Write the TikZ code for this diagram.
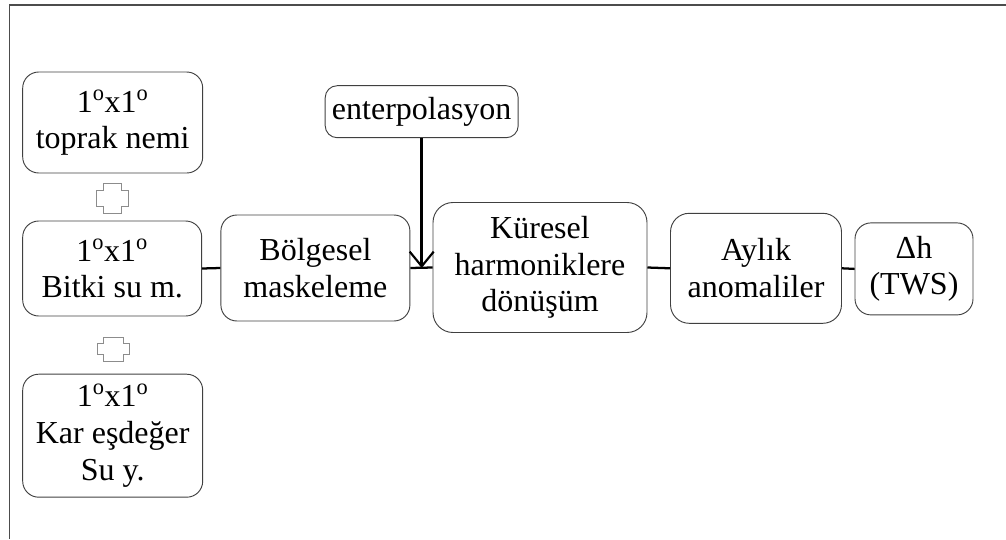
\documentclass[tikz,border=0pt]{standalone}
\usepackage{fontspec}
\setmainfont{Liberation Serif}
\usetikzlibrary{arrows.meta}

\tikzset{
  box/.style={draw=black!75, line width=0.7pt, rounded corners=12pt, align=center,
    inner sep=0pt, font=\fontsize{24}{27.5}\selectfont},
  link/.style={draw=black, line width=1.7pt},
  feed/.style={draw=black, line width=2pt, -{Straight Barb[length=11pt,width=18pt,line width=1.6pt]}},
  plussign/.style={draw=black!45, line width=0.7pt},
  frame/.style={draw=black!70}
}

\begin{document}
\begin{tikzpicture}[x=0.75pt,y=-0.75pt]
\useasboundingbox (0,0) rectangle (1006,539);

% page frame
\draw[frame, line width=1.5pt] (9,5) -- (1006,5);
\draw[frame, line width=0.75pt] (9,5) -- (9,539);

% input grids
\node[box, minimum width=180*0.75pt, minimum height=101*0.75pt] (soil) at (112.7,122.5)
  {1\textsuperscript{o}x1\textsuperscript{o}\\toprak nemi};
\node[box, minimum width=179*0.75pt, minimum height=95*0.75pt] (canopy) at (112.2,268.5)
  {1\textsuperscript{o}x1\textsuperscript{o}\\Bitki su m.};
\node[box, minimum width=180*0.75pt, minimum height=123*0.75pt] (snow) at (112.7,435.7)
  {1\textsuperscript{o}x1\textsuperscript{o}\\Kar eşdeğer\\Su y.};

% processing chain
\node[box, minimum width=189*0.75pt, minimum height=106*0.75pt] (mask) at (315.4,268)
  {Bölgesel\\maskeleme};
\node[box, minimum width=193*0.75pt, minimum height=52*0.75pt, rounded corners=9pt] (interp) at (421.7,111.7)
  {enterpolasyon};
\node[box, minimum width=214*0.75pt, minimum height=130*0.75pt, rounded corners=15pt] (sh) at (540,267.5)
  {Küresel\\harmoniklere\\dönüşüm};
\node[box, minimum width=171*0.75pt, minimum height=110*0.75pt, rounded corners=14pt] (anom) at (756,268.3)
  {Aylık\\anomaliler};
\node[box, minimum width=118*0.75pt, minimum height=92*0.75pt] (tws) at (914,268.9)
  {Δh\\(TWS)};

% plus signs between the inputs
\draw[plussign] (96,190) -- (103,190) -- (103,183) -- (121,183) -- (121,190) -- (128,190)
  -- (128,206) -- (121,206) -- (121,213) -- (103,213) -- (103,206) -- (96,206) -- cycle;
\draw[plussign] (97,343) -- (103,343) -- (103,337) -- (123,337) -- (123,343) -- (129,343)
  -- (129,354) -- (123,354) -- (123,361) -- (103,361) -- (103,354) -- (97,354) -- cycle;

% connectors
\draw[link] (canopy.east) -- (mask.west);
\draw[link] (mask.east) -- (sh.west);
\draw[link] (sh.east) -- (anom.west);
\draw[link] (anom.east) -- (tws.west);
\draw[feed] (interp.south) -- (interp.south |- mask.east);
\end{tikzpicture}
\end{document}
